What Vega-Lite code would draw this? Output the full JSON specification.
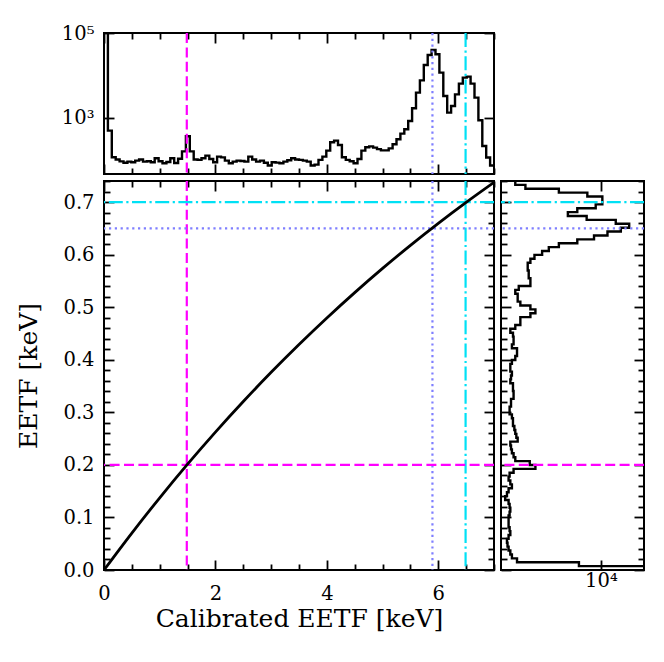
{
  "$schema": "https://vega.github.io/schema/vega-lite/v6.json",
  "background": "white",
  "padding": {"left": 15, "top": 22, "right": 5, "bottom": 5},
  "config": {
    "view": {"stroke": "black", "strokeWidth": 2},
    "axis": {
      "domain": false,
      "grid": false,
      "labelFont": "DejaVu Serif",
      "labelFontSize": 19.5,
      "labelColor": "black",
      "titleFont": "DejaVu Serif",
      "titleFontSize": 25,
      "titleFontWeight": "normal",
      "titleColor": "black",
      "tickColor": "black",
      "tickWidth": 1.8,
      "labelOverlap": false,
      "labelFlush": false,
      "labelBound": false
    }
  },
  "datasets": {
    "top": [
      {"e": 0, "n": 1000000}, {"e": 0.07, "n": 503}, {"e": 0.14, "n": 119}, {"e": 0.21, "n": 105},
      {"e": 0.28, "n": 95}, {"e": 0.35, "n": 88}, {"e": 0.42, "n": 94}, {"e": 0.49, "n": 91},
      {"e": 0.56, "n": 99}, {"e": 0.63, "n": 105}, {"e": 0.7, "n": 94}, {"e": 0.77, "n": 96},
      {"e": 0.84, "n": 91}, {"e": 0.91, "n": 113}, {"e": 0.98, "n": 96}, {"e": 1.05, "n": 86},
      {"e": 1.12, "n": 92}, {"e": 1.19, "n": 113}, {"e": 1.26, "n": 87}, {"e": 1.33, "n": 110},
      {"e": 1.4, "n": 164}, {"e": 1.47, "n": 371}, {"e": 1.54, "n": 164}, {"e": 1.61, "n": 105},
      {"e": 1.68, "n": 103}, {"e": 1.75, "n": 113}, {"e": 1.82, "n": 130}, {"e": 1.89, "n": 108},
      {"e": 1.96, "n": 91}, {"e": 2.03, "n": 123}, {"e": 2.1, "n": 118}, {"e": 2.17, "n": 99},
      {"e": 2.24, "n": 86}, {"e": 2.31, "n": 94}, {"e": 2.38, "n": 99}, {"e": 2.45, "n": 97},
      {"e": 2.52, "n": 94}, {"e": 2.59, "n": 123}, {"e": 2.66, "n": 105}, {"e": 2.73, "n": 94},
      {"e": 2.8, "n": 99}, {"e": 2.87, "n": 88}, {"e": 2.94, "n": 76}, {"e": 3.01, "n": 91},
      {"e": 3.08, "n": 89}, {"e": 3.15, "n": 86}, {"e": 3.22, "n": 94}, {"e": 3.29, "n": 101},
      {"e": 3.36, "n": 113}, {"e": 3.43, "n": 105}, {"e": 3.5, "n": 103}, {"e": 3.57, "n": 99},
      {"e": 3.64, "n": 94}, {"e": 3.71, "n": 76}, {"e": 3.78, "n": 80}, {"e": 3.85, "n": 103},
      {"e": 3.92, "n": 123}, {"e": 3.99, "n": 170}, {"e": 4.06, "n": 268}, {"e": 4.13, "n": 293},
      {"e": 4.2, "n": 232}, {"e": 4.27, "n": 119}, {"e": 4.34, "n": 103}, {"e": 4.41, "n": 96},
      {"e": 4.48, "n": 86}, {"e": 4.55, "n": 108}, {"e": 4.62, "n": 170}, {"e": 4.69, "n": 204},
      {"e": 4.76, "n": 215}, {"e": 4.83, "n": 200}, {"e": 4.9, "n": 185}, {"e": 4.97, "n": 173},
      {"e": 5.04, "n": 173}, {"e": 5.11, "n": 193}, {"e": 5.18, "n": 240}, {"e": 5.25, "n": 315},
      {"e": 5.32, "n": 428}, {"e": 5.39, "n": 541}, {"e": 5.46, "n": 850}, {"e": 5.53, "n": 1690},
      {"e": 5.6, "n": 3940}, {"e": 5.67, "n": 7690}, {"e": 5.74, "n": 17700}, {"e": 5.81, "n": 30300},
      {"e": 5.88, "n": 39800}, {"e": 5.95, "n": 31500}, {"e": 6.02, "n": 11700}, {"e": 6.09, "n": 3300},
      {"e": 6.16, "n": 1335}, {"e": 6.23, "n": 1910}, {"e": 6.3, "n": 3600}, {"e": 6.37, "n": 6420},
      {"e": 6.44, "n": 8890}, {"e": 6.51, "n": 9390}, {"e": 6.58, "n": 6420}, {"e": 6.65, "n": 3010},
      {"e": 6.72, "n": 881}, {"e": 6.79, "n": 219}, {"e": 6.86, "n": 117}, {"e": 6.93, "n": 76},
      {"e": 7.0, "n": 76}
    ],
    "side": [
      {"q": 0, "n": 1000000}, {"q": 0.0074, "n": 3090}, {"q": 0.0148, "n": 113}, {"q": 0.0222, "n": 86},
      {"q": 0.0296, "n": 79}, {"q": 0.037, "n": 72}, {"q": 0.0444, "n": 68}, {"q": 0.0518, "n": 66},
      {"q": 0.0592, "n": 72}, {"q": 0.0666, "n": 79}, {"q": 0.074, "n": 76}, {"q": 0.0814, "n": 72},
      {"q": 0.0888, "n": 72}, {"q": 0.0962, "n": 72}, {"q": 0.1036, "n": 76}, {"q": 0.111, "n": 79},
      {"q": 0.1184, "n": 76}, {"q": 0.1258, "n": 72}, {"q": 0.1332, "n": 60}, {"q": 0.1406, "n": 66},
      {"q": 0.148, "n": 72}, {"q": 0.1554, "n": 86}, {"q": 0.1628, "n": 79}, {"q": 0.1702, "n": 72},
      {"q": 0.1776, "n": 76}, {"q": 0.185, "n": 94}, {"q": 0.1924, "n": 302}, {"q": 0.1998, "n": 223},
      {"q": 0.2072, "n": 103}, {"q": 0.2146, "n": 94}, {"q": 0.222, "n": 86}, {"q": 0.2294, "n": 82},
      {"q": 0.2368, "n": 79}, {"q": 0.2442, "n": 117}, {"q": 0.2516, "n": 109}, {"q": 0.259, "n": 103},
      {"q": 0.2664, "n": 98}, {"q": 0.2738, "n": 91}, {"q": 0.2812, "n": 91}, {"q": 0.2886, "n": 86},
      {"q": 0.296, "n": 76}, {"q": 0.3034, "n": 76}, {"q": 0.3108, "n": 82}, {"q": 0.3182, "n": 82},
      {"q": 0.3256, "n": 94}, {"q": 0.333, "n": 94}, {"q": 0.3404, "n": 91}, {"q": 0.3478, "n": 91},
      {"q": 0.3552, "n": 79}, {"q": 0.3626, "n": 82}, {"q": 0.37, "n": 86}, {"q": 0.3774, "n": 79},
      {"q": 0.3848, "n": 79}, {"q": 0.3922, "n": 86}, {"q": 0.3996, "n": 103}, {"q": 0.407, "n": 113},
      {"q": 0.4144, "n": 113}, {"q": 0.4218, "n": 86}, {"q": 0.4292, "n": 94}, {"q": 0.4366, "n": 94},
      {"q": 0.444, "n": 91}, {"q": 0.4514, "n": 79}, {"q": 0.4588, "n": 103}, {"q": 0.4662, "n": 135},
      {"q": 0.4736, "n": 135}, {"q": 0.481, "n": 231}, {"q": 0.4884, "n": 302}, {"q": 0.4958, "n": 231},
      {"q": 0.5032, "n": 135}, {"q": 0.5106, "n": 117}, {"q": 0.518, "n": 117}, {"q": 0.5254, "n": 103},
      {"q": 0.5328, "n": 124}, {"q": 0.5402, "n": 231}, {"q": 0.5476, "n": 231}, {"q": 0.555, "n": 211},
      {"q": 0.5624, "n": 211}, {"q": 0.5698, "n": 200}, {"q": 0.5772, "n": 200}, {"q": 0.5846, "n": 231},
      {"q": 0.592, "n": 287}, {"q": 0.5994, "n": 432}, {"q": 0.6068, "n": 618}, {"q": 0.6142, "n": 1057},
      {"q": 0.6216, "n": 2830}, {"q": 0.629, "n": 6920}, {"q": 0.6364, "n": 14200}, {"q": 0.6438, "n": 29000},
      {"q": 0.6512, "n": 45300}, {"q": 0.6586, "n": 22100}, {"q": 0.666, "n": 4670}, {"q": 0.6734, "n": 1710},
      {"q": 0.6808, "n": 2830}, {"q": 0.6882, "n": 7570}, {"q": 0.6956, "n": 10800}, {"q": 0.703, "n": 10800},
      {"q": 0.7104, "n": 4840}, {"q": 0.7178, "n": 1057}, {"q": 0.7252, "n": 177}, {"q": 0.7326, "n": 103},
      {"q": 0.74, "n": 103}
    ],
    "curve": [
      {"e": 0, "q": 0}, {"e": 0.5, "q": 0.0703}, {"e": 1, "q": 0.1373}, {"e": 1.5, "q": 0.2013},
      {"e": 2, "q": 0.2623}, {"e": 2.5, "q": 0.3205}, {"e": 3, "q": 0.3761}, {"e": 3.5, "q": 0.429},
      {"e": 4, "q": 0.4795}, {"e": 4.5, "q": 0.5277}, {"e": 5, "q": 0.5737}, {"e": 5.5, "q": 0.6176},
      {"e": 6, "q": 0.6594}, {"e": 6.5, "q": 0.6993}, {"e": 7, "q": 0.7374}
    ],
    "vlines": [{"x": 1.486, "k": "a"}, {"x": 5.895, "k": "b"}, {"x": 6.49, "k": "c"}],
    "hlines": [{"y": 0.2, "k": "a"}, {"y": 0.65, "k": "b"}, {"y": 0.7, "k": "c"}]
  },
  "vconcat": [
    {
      "width": 390,
      "height": 141,
      "layer": [
        {
          "data": {"name": "top"},
          "mark": {"type": "line", "interpolate": "step-after", "color": "black", "strokeWidth": 2.4, "clip": true},
          "encoding": {
            "x": {
              "field": "e", "type": "quantitative",
              "scale": {"domain": [0, 7], "nice": false, "zero": false},
              "axis": {"orient": "bottom", "values": [0, 2, 4, 6], "tickSize": -10, "labels": false, "title": null}
            },
            "y": {
              "field": "n", "type": "quantitative",
              "scale": {"type": "log", "domain": [48, 100000], "nice": false},
              "axis": {
                "orient": "left",
                "values": [1000, 100000],
                "tickSize": -10,
                "labelExpr": "datum.value == 1000 ? '10³' : '10⁵'",
                "labelPadding": 20,
                "title": null
              }
            },
            "order": {"field": "e", "type": "quantitative"}
          }
        },
        {
          "data": {"name": "top"},
          "mark": {"type": "line", "opacity": 0, "clip": true},
          "encoding": {
            "x": {
              "field": "e", "type": "quantitative",
              "scale": {"domain": [0, 7], "nice": false, "zero": false},
              "axis": {"orient": "bottom", "values": [0.5, 1, 1.5, 2.5, 3, 3.5, 4.5, 5, 5.5, 6.5, 7], "tickSize": -6, "labels": false, "title": null}
            },
            "y": {
              "field": "n", "type": "quantitative",
              "scale": {"type": "log", "domain": [48, 100000], "nice": false},
              "axis": {"orient": "right", "values": [1000, 100000], "tickSize": -10, "labels": false, "title": null}
            }
          }
        },
        {
          "data": {"name": "top"},
          "mark": {"type": "line", "opacity": 0, "clip": true},
          "encoding": {
            "x": {
              "field": "e", "type": "quantitative",
              "scale": {"domain": [0, 7], "nice": false, "zero": false},
              "axis": {"orient": "top", "values": [0, 2, 4, 6], "tickSize": -10, "labels": false, "title": null}
            },
            "y": {
              "field": "n", "type": "quantitative",
              "scale": {"type": "log", "domain": [48, 100000], "nice": false},
              "axis": null
            }
          }
        },
        {
          "data": {"name": "vlines"},
          "mark": {"type": "rule", "strokeWidth": 2.2},
          "encoding": {
            "x": {
              "field": "x", "type": "quantitative",
              "scale": {"domain": [0, 7], "nice": false, "zero": false},
              "axis": {"orient": "top", "values": [0.5, 1, 1.5, 2.5, 3, 3.5, 4.5, 5, 5.5, 6.5, 7], "tickSize": -6, "labels": false, "title": null}
            },
            "color": {"field": "k", "type": "nominal", "scale": {"domain": ["a", "b", "c"], "range": ["#ff00ff", "#7f7fff", "#00e1f5"]}, "legend": null},
            "strokeDash": {"field": "k", "type": "nominal", "scale": {"domain": ["a", "b", "c"], "range": [[10, 4.4], [2.2, 3.6], [14, 3.5, 2.2, 3.5]]}, "legend": null}
          }
        }
      ],
      "resolve": {"axis": {"x": "independent", "y": "independent"}}
    },
    {
      "hconcat": [
        {
          "width": 390,
          "height": 389,
          "layer": [
            {
              "data": {"name": "vlines"},
              "mark": {"type": "rule", "strokeWidth": 2.2},
              "encoding": {
                "x": {
                  "field": "x", "type": "quantitative",
                  "scale": {"domain": [0, 7], "nice": false, "zero": false},
                  "axis": {"orient": "top", "values": [0, 2, 4, 6], "tickSize": -10, "labels": false, "title": null}
                },
                "color": {"field": "k", "type": "nominal", "scale": {"domain": ["a", "b", "c"], "range": ["#ff00ff", "#7f7fff", "#00e1f5"]}, "legend": null},
                "strokeDash": {"field": "k", "type": "nominal", "scale": {"domain": ["a", "b", "c"], "range": [[10, 4.4], [2.2, 3.6], [14, 3.5, 2.2, 3.5]]}, "legend": null}
              }
            },
            {
              "data": {"name": "hlines"},
              "mark": {"type": "rule", "strokeWidth": 2.2},
              "encoding": {
                "y": {
                  "field": "y", "type": "quantitative",
                  "scale": {"domain": [0, 0.74], "nice": false},
                  "axis": {"orient": "right", "values": [0, 0.1, 0.2, 0.3, 0.4, 0.5, 0.6, 0.7], "tickSize": -10, "labels": false, "title": null}
                },
                "color": {"field": "k", "type": "nominal", "scale": {"domain": ["a", "b", "c"], "range": ["#ff00ff", "#7f7fff", "#00e1f5"]}, "legend": null},
                "strokeDash": {"field": "k", "type": "nominal", "scale": {"domain": ["a", "b", "c"], "range": [[10, 4.4], [2.2, 3.6], [14, 3.5, 2.2, 3.5]]}, "legend": null}
              }
            },
            {
              "data": {"name": "curve"},
              "mark": {"type": "line", "interpolate": "monotone", "color": "black", "strokeWidth": 2.8, "clip": true},
              "encoding": {
                "x": {
                  "field": "e", "type": "quantitative",
                  "scale": {"domain": [0, 7], "nice": false, "zero": false},
                  "axis": {
                    "orient": "bottom",
                    "values": [0, 2, 4, 6],
                    "tickSize": -10,
                    "format": "d",
                    "labelPadding": 24,
                    "title": "Calibrated EETF [keV]",
                    "titlePadding": 4
                  }
                },
                "y": {
                  "field": "q", "type": "quantitative",
                  "scale": {"domain": [0, 0.74], "nice": false},
                  "axis": {
                    "orient": "left",
                    "values": [0, 0.1, 0.2, 0.3, 0.4, 0.5, 0.6, 0.7],
                    "tickSize": -10,
                    "format": ".1f",
                    "labelPadding": 20,
                    "title": "EETF [keV]",
                    "titlePadding": 21
                  }
                }
              }
            },
            {
              "data": {"name": "curve"},
              "mark": {"type": "line", "opacity": 0, "clip": true},
              "encoding": {
                "x": {
                  "field": "e", "type": "quantitative",
                  "scale": {"domain": [0, 7], "nice": false, "zero": false},
                  "axis": {"orient": "bottom", "values": [0.5, 1, 1.5, 2.5, 3, 3.5, 4.5, 5, 5.5, 6.5, 7], "tickSize": -6, "labels": false, "title": null}
                },
                "y": {
                  "field": "q", "type": "quantitative",
                  "scale": {"domain": [0, 0.74], "nice": false},
                  "axis": {"orient": "left", "values": [0.02, 0.04, 0.06, 0.08, 0.12, 0.14, 0.16, 0.18, 0.22, 0.24, 0.26, 0.28, 0.32, 0.34, 0.36, 0.38, 0.42, 0.44, 0.46, 0.48, 0.52, 0.54, 0.56, 0.58, 0.62, 0.64, 0.66, 0.68, 0.72, 0.74], "tickSize": -6, "labels": false, "title": null}
                }
              }
            },
            {
              "data": {"name": "curve"},
              "mark": {"type": "line", "opacity": 0, "clip": true},
              "encoding": {
                "x": {
                  "field": "e", "type": "quantitative",
                  "scale": {"domain": [0, 7], "nice": false, "zero": false},
                  "axis": {"orient": "top", "values": [0.5, 1, 1.5, 2.5, 3, 3.5, 4.5, 5, 5.5, 6.5, 7], "tickSize": -6, "labels": false, "title": null}
                },
                "y": {
                  "field": "q", "type": "quantitative",
                  "scale": {"domain": [0, 0.74], "nice": false},
                  "axis": {"orient": "right", "values": [0.02, 0.04, 0.06, 0.08, 0.12, 0.14, 0.16, 0.18, 0.22, 0.24, 0.26, 0.28, 0.32, 0.34, 0.36, 0.38, 0.42, 0.44, 0.46, 0.48, 0.52, 0.54, 0.56, 0.58, 0.62, 0.64, 0.66, 0.68, 0.72, 0.74], "tickSize": -6, "labels": false, "title": null}
                }
              }
            }
          ],
          "resolve": {"axis": {"x": "independent", "y": "independent"}}
        },
        {
          "width": 143,
          "height": 389,
          "layer": [
            {
              "data": {"name": "side"},
              "mark": {"type": "line", "interpolate": "step-before", "color": "black", "strokeWidth": 2.4, "clip": true},
              "encoding": {
                "x": {
                  "field": "n", "type": "quantitative",
                  "scale": {"type": "log", "domain": [48, 100000], "nice": false},
                  "axis": {
                    "orient": "bottom",
                    "values": [10000],
                    "tickSize": -10,
                    "labelExpr": "'10⁴'",
                    "labelPadding": 11,
                    "title": null
                  }
                },
                "y": {
                  "field": "q", "type": "quantitative",
                  "scale": {"domain": [0, 0.74], "nice": false},
                  "axis": {"orient": "left", "values": [0, 0.1, 0.2, 0.3, 0.4, 0.5, 0.6, 0.7], "tickSize": -10, "labels": false, "title": null}
                },
                "order": {"field": "q", "type": "quantitative"}
              }
            },
            {
              "data": {"name": "side"},
              "mark": {"type": "line", "opacity": 0, "clip": true},
              "encoding": {
                "x": {
                  "field": "n", "type": "quantitative",
                  "scale": {"type": "log", "domain": [48, 100000], "nice": false},
                  "axis": {"orient": "top", "values": [10000], "tickSize": -10, "labels": false, "title": null}
                },
                "y": {
                  "field": "q", "type": "quantitative",
                  "scale": {"domain": [0, 0.74], "nice": false},
                  "axis": {"orient": "left", "values": [0.02, 0.04, 0.06, 0.08, 0.12, 0.14, 0.16, 0.18, 0.22, 0.24, 0.26, 0.28, 0.32, 0.34, 0.36, 0.38, 0.42, 0.44, 0.46, 0.48, 0.52, 0.54, 0.56, 0.58, 0.62, 0.64, 0.66, 0.68, 0.72, 0.74], "tickSize": -6, "labels": false, "title": null}
                },
                "order": {"field": "q", "type": "quantitative"}
              }
            },
            {
              "data": {"name": "side"},
              "mark": {"type": "line", "opacity": 0, "clip": true},
              "encoding": {
                "x": {
                  "field": "n", "type": "quantitative",
                  "scale": {"type": "log", "domain": [48, 100000], "nice": false},
                  "axis": null
                },
                "y": {
                  "field": "q", "type": "quantitative",
                  "scale": {"domain": [0, 0.74], "nice": false},
                  "axis": {"orient": "right", "values": [0, 0.1, 0.2, 0.3, 0.4, 0.5, 0.6, 0.7], "tickSize": -10, "labels": false, "title": null}
                },
                "order": {"field": "q", "type": "quantitative"}
              }
            },
            {
              "data": {"name": "hlines"},
              "mark": {"type": "rule", "strokeWidth": 2.2},
              "encoding": {
                "y": {
                  "field": "y", "type": "quantitative",
                  "scale": {"domain": [0, 0.74], "nice": false},
                  "axis": {"orient": "right", "values": [0.02, 0.04, 0.06, 0.08, 0.12, 0.14, 0.16, 0.18, 0.22, 0.24, 0.26, 0.28, 0.32, 0.34, 0.36, 0.38, 0.42, 0.44, 0.46, 0.48, 0.52, 0.54, 0.56, 0.58, 0.62, 0.64, 0.66, 0.68, 0.72, 0.74], "tickSize": -6, "labels": false, "title": null}
                },
                "color": {"field": "k", "type": "nominal", "scale": {"domain": ["a", "b", "c"], "range": ["#ff00ff", "#7f7fff", "#00e1f5"]}, "legend": null},
                "strokeDash": {"field": "k", "type": "nominal", "scale": {"domain": ["a", "b", "c"], "range": [[10, 4.4], [2.2, 3.6], [14, 3.5, 2.2, 3.5]]}, "legend": null}
              }
            }
          ],
          "resolve": {"axis": {"x": "independent", "y": "independent"}}
        }
      ],
      "spacing": 7,
      "bounds": "flush"
    }
  ],
  "spacing": 7,
  "bounds": "flush"
}
